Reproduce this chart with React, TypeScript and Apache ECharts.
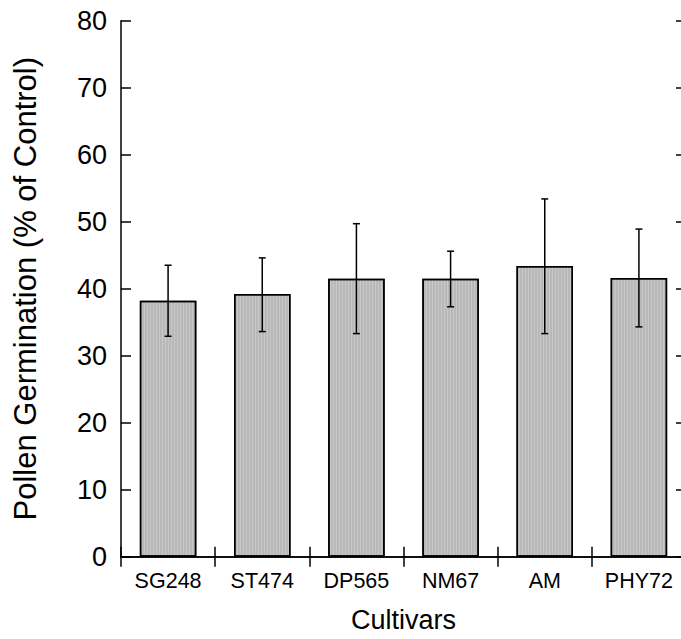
import React, { useEffect, useRef } from "react";
import * as echarts from "echarts";

const categories = ["SG248", "ST474", "DP565", "NM67", "AM", "PHY72"];
const means = [38.2, 39.2, 41.5, 41.5, 43.4, 41.6];
const errUpper = [43.5, 44.6, 49.7, 45.6, 53.4, 48.9];
const errLower = [32.9, 33.6, 33.3, 37.3, 33.3, 34.3];
const yTicks = [0, 10, 20, 30, 40, 50, 60, 70, 80];

const FONT = "'Liberation Sans', Arial, Helvetica, sans-serif";

export default function App() {
  const ref = useRef<HTMLDivElement>(null);
  useEffect(() => {
    if (!ref.current) return;
    const chart = echarts.init(ref.current, null, { renderer: "svg" });
    const errData = categories.map((_, i) => [i, errLower[i], errUpper[i]]);
    chart.setOption({
      animation: false,
      backgroundColor: "#ffffff",
      textStyle: { fontFamily: FONT },
      grid: {
        left: 121,
        width: 565,
        top: 20.7,
        height: 536,
        containLabel: false,
        outerBoundsMode: "none",
      },
      xAxis: [
        {
          type: "category",
          data: categories,
          position: "bottom",
          axisLine: { show: true, lineStyle: { color: "#000", width: 1.5 } },
          axisTick: { show: true, inside: true, length: 10, alignWithLabel: false, lineStyle: { color: "#000", width: 1.5 } },
          axisLabel: { color: "#000", fontSize: 21.5, fontFamily: FONT, margin: 13 },
          name: "Cultivars",
          nameLocation: "middle",
          nameGap: 50,
          nameTextStyle: { color: "#000", fontSize: 27, fontFamily: FONT },
          splitLine: { show: false },
        },
        {
          type: "category",
          data: categories,
          position: "top",
          axisLine: { show: true, lineStyle: { color: "#000", width: 1.5 } },
          axisTick: { show: true, inside: true, length: 10, lineStyle: { color: "#000", width: 1.5 } },
          axisLabel: { show: false },
          splitLine: { show: false },
        },
      ],
      yAxis: [
        {
          type: "value",
          min: 0,
          max: 80,
          interval: 10,
          position: "left",
          axisLine: { show: true, lineStyle: { color: "#000", width: 1.5 } },
          axisTick: { show: true, inside: true, length: 10, lineStyle: { color: "#000", width: 1.5 } },
          axisLabel: {
            color: "#000",
            fontSize: 27,
            fontFamily: FONT,
            margin: 14,
            verticalAlign: "middle",
            padding: [0, 0, 7, 0],
            formatter: (v: number) => (yTicks.includes(v) ? String(v) : ""),
          },
          splitLine: { show: false },
          name: "Pollen Germination (% of Control)",
          nameLocation: "middle",
          nameGap: 80,
          nameRotate: 90,
          nameTextStyle: { color: "#000", fontSize: 31, fontFamily: FONT },
        },
        {
          type: "value",
          min: 0,
          max: 80,
          interval: 10,
          position: "right",
          axisLine: { show: true, lineStyle: { color: "#000", width: 1.5 } },
          axisTick: { show: true, inside: true, length: 10, lineStyle: { color: "#000", width: 1.5 } },
          axisLabel: { show: false },
          splitLine: { show: false },
        },
      ],
      series: [
        {
          type: "bar",
          data: means,
          xAxisIndex: 0,
          yAxisIndex: 0,
          barWidth: "60%",
          itemStyle: {
            color: "#b9b9b9",
            borderColor: "#000",
            borderWidth: 1.5,
            decal: {
              symbol: "rect",
              color: "rgba(255,255,255,0.2)",
              dashArrayX: [1, 2],
              dashArrayY: [4, 0],
              symbolSize: 1,
              rotation: 0,
            },
          },
          z: 2,
        },
        {
          type: "custom",
          xAxisIndex: 0,
          yAxisIndex: 0,
          data: errData,
          z: 5,
          renderItem: (params: any, api: any) => {
            const x = api.value(0);
            const lo = api.coord([x, api.value(1)]);
            const hi = api.coord([x, api.value(2)]);
            const half = 3.5;
            const style = { stroke: "#000", lineWidth: 1.5 };
            return {
              type: "group",
              children: [
                { type: "line", shape: { x1: hi[0], y1: hi[1], x2: lo[0], y2: lo[1] }, style },
                { type: "line", shape: { x1: hi[0] - half, y1: hi[1], x2: hi[0] + half, y2: hi[1] }, style },
                { type: "line", shape: { x1: lo[0] - half, y1: lo[1], x2: lo[0] + half, y2: lo[1] }, style },
              ],
            };
          },
        },
      ],
    });
    return () => chart.dispose();
  }, []);
  return (
    <div
      ref={ref}
      style={{ position: "fixed", left: 0, top: 0, width: 681, height: 639, background: "#fff" }}
    />
  );
}
